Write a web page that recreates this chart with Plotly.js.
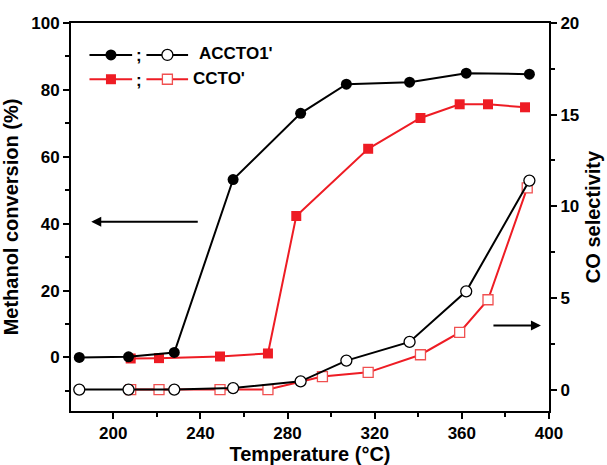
<!DOCTYPE html>
<html>
<head>
<meta charset="utf-8">
<script src="https://cdn.plot.ly/plotly-3.0.1.min.js"></script>
<style>html,body{margin:0;padding:0;background:#fff;}#chart{width:607px;height:465px;}</style>
</head>
<body>
<div id="chart"></div>
<script>
// ---- data ----
var tempACCTO = [184.4, 207, 228, 255, 286, 307, 336, 362, 391];
var convACCTO = [0, 0.2, 1.5, 53.2, 73, 81.7, 82.3, 85, 84.7];
var selACCTO  = [0, 0, 0, 0.08, 0.45, 1.58, 2.6, 5.36, 11.4];
var tempCCTOconv = [208, 221, 249, 271, 284, 317, 341, 359, 372, 389];
var convCCTO  = [-0.3, -0.2, 0.3, 1.2, 42.3, 62.4, 71.6, 75.7, 75.7, 74.8];
var tempCCTOsel = [208, 221, 249, 271, 296, 317, 341, 359, 372, 390];
var selCCTO   = [0, 0, 0, 0, 0.71, 0.94, 1.9, 3.12, 4.9, 11.0];
var legendNames = ["ACCTO1'", "CCTO'"];
var xTitle = "Temperature (°C)";
var yTitle = "Methanol conversion (%)";
var y2Title = "CO selectivity";

var FONT = "Liberation Sans, Arial, sans-serif";
var RED = "#ee1c24";
var RED_OPEN = "#f05050";

var traces = [
  {x: tempCCTOconv, y: convCCTO, type: "scatter", mode: "lines+markers", yaxis: "y",
   line: {color: RED, width: 2}, marker: {symbol: "square", size: 10, color: RED}, showlegend: false},
  {x: tempCCTOsel, y: selCCTO, type: "scatter", mode: "lines+markers", yaxis: "y2",
   line: {color: RED, width: 2}, marker: {symbol: "square", size: 10, color: "#fff", line: {color: RED_OPEN, width: 1.3}}, showlegend: false},
  {x: tempACCTO, y: convACCTO, type: "scatter", mode: "lines+markers", yaxis: "y",
   line: {color: "#000", width: 2}, marker: {symbol: "circle", size: 11, color: "#000"}, showlegend: false},
  {x: tempACCTO, y: selACCTO, type: "scatter", mode: "lines+markers", yaxis: "y2",
   line: {color: "#000", width: 2}, marker: {symbol: "circle", size: 11, color: "#fff", line: {color: "#000", width: 1.3}}, showlegend: false}
];

// plot area in pixels
var L = 70.5, R = 549, T = 23, B = 411.5;
function px(p){ return (p - L) / (R - L); }
function py(p){ return (B - p) / (B - T); }

var shapes = [];
var annotations = [];
function legendRow(yPix, filledSym, openSym, color, openColor, name, textX) {
  shapes.push({type: "line", xref: "paper", yref: "paper", x0: px(89), x1: px(131.7), y0: py(yPix), y1: py(yPix), line: {color: color, width: 2}});
  shapes.push({type: "line", xref: "paper", yref: "paper", x0: px(146), x1: px(187.7), y0: py(yPix), y1: py(yPix), line: {color: color, width: 2}});
  var s = filledSym === "circle" ? 5.5 : 5;
  shapes.push({type: filledSym === "circle" ? "circle" : "rect", xref: "paper", yref: "paper",
    xsizemode: "pixel", ysizemode: "pixel", xanchor: px(110.5), yanchor: py(yPix),
    x0: -s, x1: s, y0: -s, y1: s, fillcolor: color, line: {color: color, width: 0}});
  shapes.push({type: openSym === "circle" ? "circle" : "rect", xref: "paper", yref: "paper",
    xsizemode: "pixel", ysizemode: "pixel", xanchor: px(167), yanchor: py(yPix),
    x0: -s, x1: s, y0: -s, y1: s, fillcolor: "#fff", line: {color: openColor, width: 1.3}});
  annotations.push({xref: "paper", yref: "paper", x: px(139), y: py(yPix + 1), text: ";", showarrow: false,
    xanchor: "center", yanchor: "middle", font: {family: FONT, size: 17, color: "#000", weight: "bold"}});
  annotations.push({xref: "paper", yref: "paper", x: px(textX), y: py(yPix - 1), text: name, showarrow: false,
    xanchor: "left", yanchor: "middle", font: {family: FONT, size: 17, color: "#000", weight: "bold"}});
}
legendRow(55, "circle", "circle", "#000", "#000", legendNames[0], 197);
legendRow(79.3, "square", "square", RED, RED_OPEN, legendNames[1], 191);

// arrows
annotations.push({xref: "x", yref: "y", x: 189.9, y: 40.6, ax: 108, ay: 0, axref: "pixel", ayref: "pixel",
  text: "", showarrow: true, arrowhead: 2, arrowsize: 1, arrowwidth: 2, arrowcolor: "#000"});
annotations.push({xref: "x", yref: "y2", x: 396.3, y: 3.49, ax: -49, ay: 0, axref: "pixel", ayref: "pixel",
  text: "", showarrow: true, arrowhead: 2, arrowsize: 1, arrowwidth: 2, arrowcolor: "#000"});

var tickFont = {family: FONT, size: 17, color: "#000", weight: "bold"};
var titleFont = {family: FONT, size: 20, color: "#000", weight: "bold"};

var layout = {
  width: 607, height: 465,
  margin: {l: L, r: 607 - R, t: T, b: 465 - B, pad: 0},
  paper_bgcolor: "#fff", plot_bgcolor: "#fff",
  showlegend: false,
  xaxis: {
    range: [180.6, 400], showgrid: false, zeroline: false,
    showline: true, linecolor: "#000", linewidth: 2, mirror: true,
    ticks: "outside", ticklen: 6, tickwidth: 2, tickcolor: "#000",
    tick0: 0, dtick: 40, tickfont: tickFont,
    minor: {ticks: "outside", dtick: 20, tick0: 0, ticklen: 4, tickwidth: 2, tickcolor: "#000", showgrid: false},
    title: {text: xTitle, font: titleFont, standoff: 5}
  },
  yaxis: {
    range: [-16, 100], showgrid: false, zeroline: false,
    showline: true, linecolor: "#000", linewidth: 2, mirror: true,
    ticks: "outside", ticklen: 6, tickwidth: 2, tickcolor: "#000",
    tick0: 0, dtick: 20, tickfont: tickFont,
    minor: {ticks: "outside", dtick: 10, tick0: 0, ticklen: 4, tickwidth: 2, tickcolor: "#000", showgrid: false},
    title: {text: yTitle, font: titleFont, standoff: 8}
  },
  yaxis2: {
    overlaying: "y", side: "right",
    range: [-1.17, 20], showgrid: false, zeroline: false,
    showline: true, linecolor: "#000", linewidth: 2,
    ticks: "outside", ticklen: 6, tickwidth: 2, tickcolor: "#000",
    tick0: 0, dtick: 5, tickfont: tickFont,
    minor: {ticks: "outside", dtick: 2.5, tick0: 0, ticklen: 4, tickwidth: 2, tickcolor: "#000", showgrid: false},
    title: {text: y2Title, font: titleFont, standoff: 8}
  },
  shapes: shapes,
  annotations: annotations
};

Plotly.newPlot("chart", traces, layout, {displayModeBar: false, staticPlot: true});
</script>
</body>
</html>
